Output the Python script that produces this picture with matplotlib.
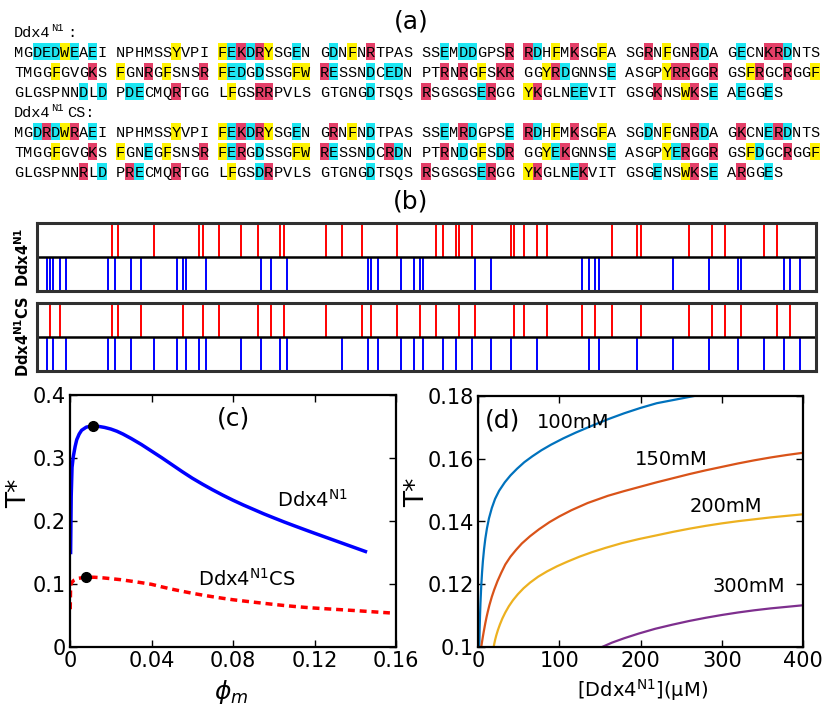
import matplotlib
matplotlib.use("Agg")
import matplotlib.pyplot as plt
from matplotlib.patches import Rectangle

# ---------------- données ----------------
# (a) séquences, par blocs de 10 résidus
seq_n1 = ["MGDEDWEAEI NPHMSSYVPI FEKDRYSGEN GDNFNRTPAS SSEMDDGPSR RDHFMKSGFA SGRNFGNRDA GECNKRDNTS",
          "TMGGFGVGKS FGNRGFSNSR FEDGDSSGFW RESSNDCEDN PTRNRGFSKR GGYRDGNNSE ASGPYRRGGR GSFRGCRGGF",
          "GLGSPNNDLD PDECMQRTGG LFGSRRPVLS GTGNGDTSQS RSGSGSERGG YKGLNEEVIT GSGKNSWKSE AEGGES"]
seq_cs = ["MGDRDWRAEI NPHMSSYVPI FEKDRYSGEN GRNFNDTPAS SSEMRDGPSE RDHFMKSGFA SGDNFGNRDA GKCNERDNTS",
          "TMGGFGVGKS FGNEGFSNSR FERGDSSGFW RESSNDCRDN PTRNDGFSDR GGYEKGNNSE ASGPYERGGR GSFDGCRGGF",
          "GLGSPNNRLD PRECMQRTGG LFGSDRPVLS GTGNGDTSQS RSGSGSERGG YKGLNEKVIT GSGENSWKSE ARGGES"]

# (c) T* en fonction de phi_m
phi_n1 = [0.0003, 0.0006, 0.001, 0.0016, 0.0025, 0.0033, 0.0045, 0.0057, 0.008, 0.0111,
          0.014, 0.017, 0.020, 0.023, 0.026, 0.030, 0.035, 0.040, 0.045, 0.050, 0.055, 0.060,
          0.065, 0.070, 0.075, 0.080, 0.085, 0.090, 0.095, 0.100, 0.105, 0.110, 0.115, 0.120,
          0.125, 0.130, 0.135, 0.140, 0.145]
T_n1 = [0.150, 0.240, 0.285, 0.302, 0.318, 0.329, 0.338, 0.344, 0.349, 0.351,
        0.3502, 0.3485, 0.3460, 0.3425, 0.3380, 0.3310, 0.3215, 0.3110, 0.3005, 0.2895, 0.2785, 0.2680,
        0.2585, 0.2495, 0.2410, 0.2330, 0.2255, 0.2185, 0.2115, 0.2050, 0.1986, 0.1925, 0.1865, 0.1806,
        0.1748, 0.1690, 0.1632, 0.1574, 0.1516]
phi_cs = [0.0001, 0.0003, 0.001, 0.002, 0.004, 0.0079, 0.012, 0.016, 0.020, 0.025, 0.030, 0.035,
          0.040, 0.045, 0.050, 0.055, 0.060, 0.065, 0.070, 0.075, 0.080, 0.085, 0.090, 0.095,
          0.100, 0.105, 0.110, 0.115, 0.120, 0.130, 0.140, 0.150, 0.157]
T_cs = [0.060, 0.098, 0.103, 0.106, 0.109, 0.1108, 0.1107, 0.1098, 0.1085, 0.1068, 0.1045, 0.1021,
        0.0995, 0.0955, 0.0918, 0.0885, 0.0853, 0.0824, 0.0798, 0.0773, 0.0750, 0.0731, 0.0712, 0.0694,
        0.0676, 0.0659, 0.0644, 0.0630, 0.0618, 0.0598, 0.0578, 0.0556, 0.0541]
crit_n1 = (0.0111, 0.351)
crit_cs = (0.0079, 0.111)

# (d) T* en fonction de la concentration, pour chaque sel
conc_100 = [1.6, 2, 2.5, 3, 4, 5, 6, 7.5, 9, 11, 13.5, 17, 21, 26, 33, 40, 48, 57, 67, 78, 90,
            105, 120, 140, 160, 180, 200, 220, 240, 260, 280]
T_100 = [0.100, 0.1055, 0.110, 0.1138, 0.1195, 0.1238, 0.1273, 0.1313, 0.1345, 0.1378, 0.1410,
         0.1443, 0.1472, 0.1498, 0.1525, 0.1547, 0.1568, 0.1589, 0.1608, 0.1627, 0.1645, 0.1665,
         0.1683, 0.1705, 0.1726, 0.1745, 0.1762, 0.1777, 0.1787, 0.1797, 0.1807]
conc_150 = [4, 5, 6, 7, 8, 9, 10.5, 12, 14, 17, 20, 24, 28.5, 33.6, 40, 47, 54, 64, 75, 88, 100,
            115, 135, 160, 180, 200, 220, 240, 260, 280, 300, 320, 340, 360, 380, 400]
T_150 = [0.1000, 0.1017, 0.1033, 0.1048, 0.1062, 0.1076, 0.1095, 0.1112, 0.1133, 0.1160, 0.1183,
         0.1210, 0.1236, 0.1263, 0.1288, 0.1310, 0.1330, 0.1353, 0.1375, 0.1398, 0.1416, 0.1436,
         0.1459, 0.1482, 0.1497, 0.1511, 0.1525, 0.1538, 0.1551, 0.1563, 0.1574, 0.1585, 0.1595,
         0.1604, 0.1612, 0.1619]
conc_200 = [19.3, 20, 21, 22.5, 24.5, 27, 30, 33.6, 38, 43, 49, 56, 64, 74, 85, 97, 110, 125, 140,
            157, 177, 198, 220, 240, 260, 280, 300, 320, 340, 360, 380, 400]
T_200 = [0.1000, 0.1010, 0.1022, 0.1037, 0.1054, 0.1072, 0.1091, 0.1110, 0.1130, 0.1149, 0.1168,
         0.1187, 0.1205, 0.1224, 0.1241, 0.1257, 0.1272, 0.1288, 0.1302, 0.1316, 0.1331, 0.1344,
         0.1356, 0.1367, 0.1377, 0.1386, 0.1394, 0.1401, 0.1407, 0.1413, 0.1418, 0.1423]
conc_300 = [150, 165, 180, 198, 218, 239, 260, 280, 300, 320, 340, 360, 380, 400]
T_300 = [0.0997, 0.1014, 0.1028, 0.1043, 0.1058, 0.1071, 0.1083, 0.1093, 0.1102, 0.1110, 0.1117,
         0.1123, 0.1128, 0.1133]
sels = ["100mM", "150mM", "200mM", "300mM"]

# couleurs de surlignage : négatif, positif, aromatique
surlignage = {}
for c in "DE":
    surlignage[c] = "#1EE6F2"
for c in "RK":
    surlignage[c] = "#E53F68"
for c in "FYW":
    surlignage[c] = "#FFF200"

fig = plt.figure(figsize=(8.3, 7.05), dpi=100)

# axe "pixels" pour le texte du panneau (a)
pix = fig.add_axes([0, 0, 1, 1])
pix.set_xlim(0, 830)
pix.set_ylim(705, 0)
pix.axis("off")

cell = 9.26
x0 = 14


def dessine_sequence(lignes, base, nom):
    # en-tête : Ddx4^N1 + suffixe
    pix.text(x0, base - 20, "Ddx4", family="Liberation Mono", fontsize=11, va="baseline")
    pix.text(51, base - 26, "N1", family="Liberation Mono", fontsize=7.5, va="baseline")
    pix.text(67.5, base - 20, nom + ":", family="Liberation Mono", fontsize=11, va="baseline")
    for k, ligne in enumerate(lignes):
        yb = base + k * 20
        for i, ch in enumerate(ligne):
            if ch == " ":
                continue
            xl = x0 + i * cell
            if ch in surlignage:
                pix.add_patch(Rectangle((xl, yb - 14), cell, 17, color=surlignage[ch], lw=0))
            pix.text(xl + cell / 2, yb, ch, family="Liberation Mono", fontsize=11,
                     ha="center", va="baseline")


dessine_sequence(seq_n1, 57, "")
dessine_sequence(seq_cs, 137, "CS")

pix.text(411, 21.5, "(a)", fontsize=18, ha="center", va="center")
pix.text(411, 201, "(b)", fontsize=18, ha="center", va="center")


# ---------------- (b) positions des charges ----------------
def boite_charges(rect, lignes, label):
    ax = fig.add_axes(rect)
    residus = "".join(lignes).replace(" ", "")
    pos = [i + 1 for i, c in enumerate(residus) if c in "RK"]
    neg = [i + 1 for i, c in enumerate(residus) if c in "DE"]
    ax.vlines(pos, 1, 2, color="red", lw=1.4)
    ax.vlines(neg, 0, 1, color="blue", lw=1.4)
    ax.axhline(1, color="black", lw=1.8)
    ax.set_xlim(0, 240)
    ax.set_ylim(0, 2)
    ax.set_xticks([])
    ax.set_yticks([])
    for s in ax.spines.values():
        s.set_linewidth(2.2)
        s.set_color("#303030")
    ax.set_ylabel(label, fontsize=10.5, fontweight="bold")
    ax.yaxis.set_label_coords(-0.007, 0.5)
    return ax


W, H = 830.0, 705.0
boite_charges([37 / W, 1 - 291 / H, 779 / W, 68 / H], seq_n1, r"Ddx4$^{\mathbf{N1}}$")
boite_charges([37 / W, 1 - 371 / H, 779 / W, 68 / H], seq_cs, r"Ddx4$^{\mathbf{N1}}$CS")

# ---------------- (c) ----------------
axc = fig.add_axes([70 / W, 1 - 647 / H, 326 / W, 252 / H])
axc.plot(phi_n1, T_n1, color="blue", lw=2.5)
axc.plot(phi_cs, T_cs, color="red", lw=2.5, ls=(0, (2, 1.4)))
axc.plot(*crit_n1, "o", color="black", ms=7)
axc.plot(*crit_cs, "o", color="black", ms=7)
axc.set_xlim(0, 0.16)
axc.set_ylim(0, 0.4)
axc.set_xticks([0, 0.04, 0.08, 0.12, 0.16])
axc.set_xticklabels(["0", "0.04", "0.08", "0.12", "0.16"])
axc.set_yticks([0, 0.1, 0.2, 0.3, 0.4])
axc.set_yticklabels(["0", "0.1", "0.2", "0.3", "0.4"])
axc.text(0.080, 0.363, "(c)", fontsize=18, ha="center", va="center")
axc.text(0.1014, 0.233, r"Ddx4$^{\rm N1}$", fontsize=14, va="center")
axc.text(0.0629, 0.108, r"Ddx4$^{\rm N1}$CS", fontsize=14, va="center")
axc.set_xlabel(r"$\phi_m$", fontsize=18)
axc.xaxis.set_label_coords(0.494, -0.123)
axc.set_ylabel("T*", fontsize=19)
axc.yaxis.set_label_coords(-0.117, 0.61)

# ---------------- (d) ----------------
axd = fig.add_axes([478 / W, 1 - 647 / H, 325 / W, 251 / H])
couleurs = ["#0072BD", "#D95319", "#EDB120", "#7E2F8E"]
for x, y, c in zip([conc_100, conc_150, conc_200, conc_300], [T_100, T_150, T_200, T_300], couleurs):
    axd.plot(x, y, color=c, lw=1.6)
axd.set_xlim(0, 400)
axd.set_ylim(0.1, 0.18)
axd.set_xticks([0, 100, 200, 300, 400])
axd.set_yticks([0.1, 0.12, 0.14, 0.16, 0.18])
axd.set_yticklabels(["0.1", "0.12", "0.14", "0.16", "0.18"])
axd.text(9, 0.1723, "(d)", fontsize=18, va="center")
for s, xt, yt in zip(sels, [72.6, 193.6, 261, 288], [0.1717, 0.1598, 0.1449, 0.1193]):
    axd.text(xt, yt, s, fontsize=14, va="center")
axd.set_xlabel(r"[Ddx4$^{\rm N1}$](µM)", fontsize=14)
axd.xaxis.set_label_coords(0.505, -0.12)
axd.set_ylabel("T*", fontsize=19)
axd.yaxis.set_label_coords(-0.148, 0.617)

for ax in (axc, axd):
    ax.tick_params(direction="in", top=True, right=True, length=5, width=1,
                   labelsize=15, pad=3)
    for s in ax.spines.values():
        s.set_linewidth(1.6)

fig.savefig("out.png", dpi=100)
